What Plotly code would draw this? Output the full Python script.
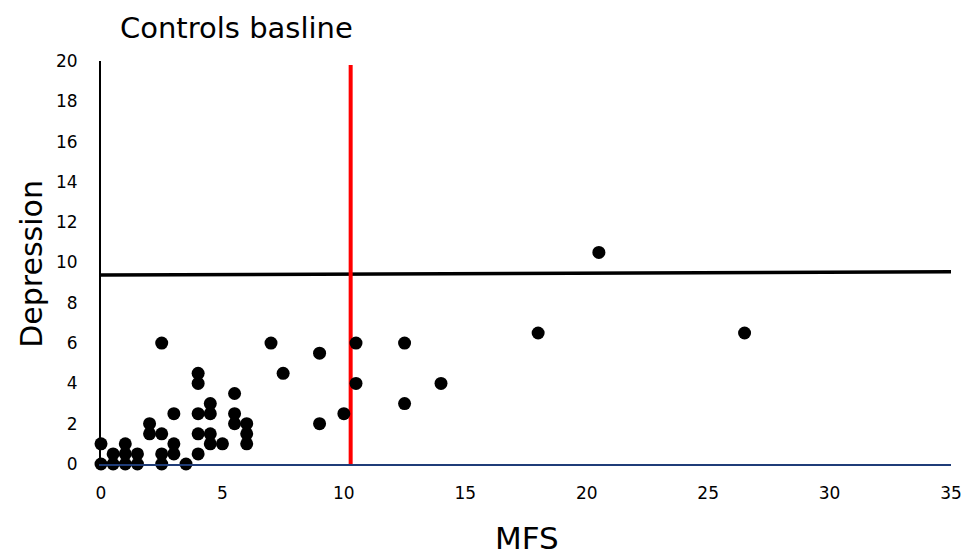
import plotly.graph_objects as go

# Scatter data (MFS vs Depression)
mfs = [0, 0, 0.5, 0.5, 1, 1, 1, 1.5, 1.5, 2, 2, 2.5, 2.5, 2.5, 2.5,
       3, 3, 3, 3.5, 4, 4, 4, 4, 4, 4.5, 4.5, 4.5, 4.5, 5, 5.5, 5.5, 5.5,
       6, 6, 6, 7, 7.5, 9, 9, 10, 10.5, 10.5, 12.5, 12.5, 14, 18, 20.5, 26.5]
depression = [0, 1, 0, 0.5, 0, 0.5, 1, 0, 0.5, 1.5, 2, 0, 0.5, 1.5, 6,
              0.5, 1, 2.5, 0, 0.5, 1.5, 2.5, 4, 4.5, 1, 1.5, 2.5, 3, 1, 2, 2.5, 3.5,
              1, 1.5, 2, 6, 4.5, 2, 5.5, 2.5, 4, 6, 3, 6, 4, 6.5, 10.5, 6.5]

# Reference lines
hline_x = [0, 35]
hline_y = [9.38, 9.54]
vline_x = [10.28, 10.28]
vline_y = [0, 19.8]

x_ticks = [0, 5, 10, 15, 20, 25, 30, 35]
y_ticks = [0, 2, 4, 6, 8, 10, 12, 14, 16, 18, 20]

FONT = "DejaVu Sans"

W, H = 974, 557
L, T, R, B = 101, 61, 17, 93
PW = W - L - R
PH = H - T - B
SX = 974 / 966.0  # horizontal page-to-picture factor


def px(x):
    """picture x (pixels) -> paper fraction"""
    return (x * SX - L) / PW


fig = go.Figure()
fig.add_trace(go.Scatter(x=hline_x, y=hline_y, mode="lines",
                         line=dict(color="black", width=3.5), hoverinfo="skip",
                         showlegend=False, cliponaxis=False))
fig.add_trace(go.Scatter(x=vline_x, y=vline_y, mode="lines",
                         line=dict(color="#FF0000", width=4), hoverinfo="skip",
                         showlegend=False, cliponaxis=False))
fig.add_trace(go.Scatter(x=mfs, y=depression, mode="markers",
                         marker=dict(color="black", size=13),
                         showlegend=False, cliponaxis=False))

fig.update_layout(
    width=W, height=H,
    margin=dict(l=L, r=R, t=T, b=B),
    paper_bgcolor="white", plot_bgcolor="white",
    font=dict(family=FONT, color="black", size=17),
    xaxis=dict(range=[0, 35], tickvals=x_ticks, showgrid=False, zeroline=False,
               showline=True, linecolor="#1F3C78", linewidth=2,
               ticks="", ticklabelstandoff=13, tickfont=dict(size=17, family=FONT)),
    yaxis=dict(range=[0, 20], tickvals=y_ticks, showgrid=False, zeroline=False,
               showline=True, linecolor="black", linewidth=2,
               ticks="", ticklabelstandoff=18, tickfont=dict(size=17, family=FONT)),
    annotations=[
        dict(text="Controls basline", xref="paper", yref="paper",
             x=px(236), y=1 + (T - 28) / PH, xanchor="center", yanchor="middle",
             showarrow=False, font=dict(size=29, family=FONT)),
        dict(text="Depression", xref="paper", yref="paper",
             x=px(30), y=(H - B - 264) / PH, xanchor="center", yanchor="middle",
             textangle=-90, showarrow=False, font=dict(size=30, family=FONT)),
        dict(text="MFS", xref="paper", yref="paper",
             x=px(526), y=-(538 - (H - B)) / PH, xanchor="center", yanchor="middle",
             showarrow=False, font=dict(size=31, family=FONT)),
    ],
)

fig.write_html(
    "out.html",
    config={"displayModeBar": False},
    post_script="document.body.style.margin='0px';document.body.style.overflow='hidden';",
)
